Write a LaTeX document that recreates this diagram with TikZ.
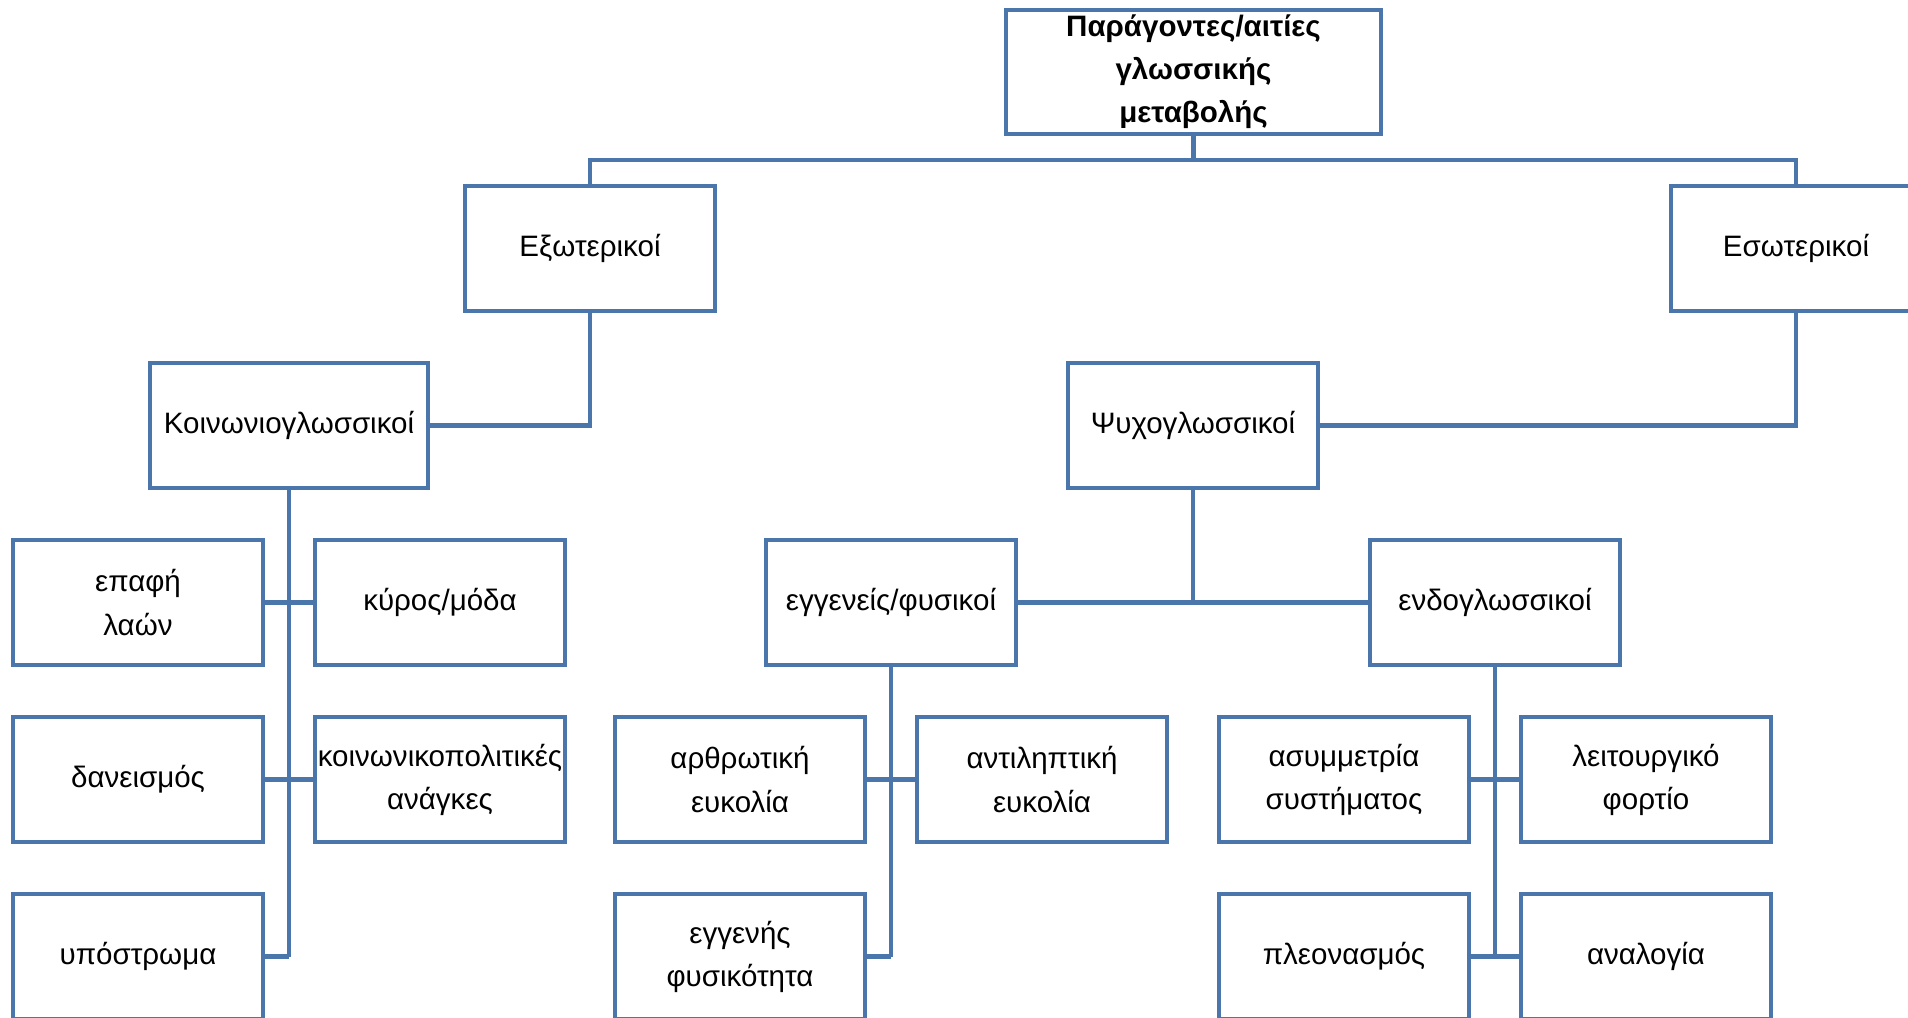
\documentclass[tikz,border=0pt]{standalone}
\usepackage{fontspec}
\setmainfont{Liberation Sans}
\usepackage{xcolor}
\usetikzlibrary{positioning,calc}
\definecolor{boxblue}{HTML}{4A76AC}

\begin{document}
\begin{tikzpicture}[
    node distance=1.04cm,
    box/.style={rectangle, draw=boxblue, line width=2.6pt, minimum width=5cm, minimum height=2.5cm, inner sep=0pt, outer sep=0pt, align=center, font=\fontsize{16.8}{24.5}\selectfont},
    link/.style={draw=boxblue, line width=2.6pt}
]
\useasboundingbox (0,0) rectangle (38.16,-20.36);
\clip (0,0) rectangle (38.16,-20.36);

\node[box, font=\fontsize{16.8}{24.5}\selectfont\bfseries, minimum width=7.5cm, minimum height=2.48cm] (root) at (23.87,-1.44) {Παράγοντες/αιτίες\\γλωσσικής\\μεταβολής};
\node[box, below=of root, xshift=-12.07cm] (ext) {Εξωτερικοί};
\node[box, below=of root, xshift=12.05cm] (int) {Εσωτερικοί};
\node[box, below=of ext, xshift=-6.02cm, minimum width=5.56cm] (koin) {Κοινωνιογλωσσικοί};
\node[box, below=of int, xshift=-12.06cm] (psy) {Ψυχογλωσσικοί};

% κοινωνιογλωσσικοί
\node[box, below=of koin, xshift=-3.02cm] (epafi) {επαφή\\λαών};
\node[box, right=of epafi] (kyros) {κύρος/μόδα};
\node[box, below=of epafi] (daneismos) {δανεισμός};
\node[box, below=of kyros] (koinpol) {κοινωνικοπολιτικές\\ανάγκες};
\node[box, below=of daneismos] (ypostroma) {υπόστρωμα};

% ψυχογλωσσικοί
\node[box, below=of psy, xshift=-6.04cm] (engeneis) {εγγενείς/φυσικοί};
\node[box, below=of psy, xshift=6.04cm] (endo) {ενδογλωσσικοί};
\node[box, below=of engeneis, xshift=-3.02cm] (arthr) {αρθρωτική\\ευκολία};
\node[box, right=of arthr] (antil) {αντιληπτική\\ευκολία};
\node[box, below=of arthr] (fysik) {εγγενής\\φυσικότητα};
\node[box, below=of endo, xshift=-3.02cm] (asym) {ασυμμετρία\\συστήματος};
\node[box, right=of asym] (leit) {λειτουργικό\\φορτίο};
\node[box, below=of asym] (pleon) {πλεονασμός};
\node[box, below=of leit] (analog) {αναλογία};

\draw[link] (root.south) -- ++(0,-0.52) coordinate (bus);
\draw[link] (ext.north) |- (bus) -| (int.north);
\draw[link] (ext.south) |- (koin.east);
\draw[link] (int.south) |- (psy.east);

\draw[link] (koin.south) -- (koin.south |- ypostroma.east);
\draw[link] (epafi.east) -- (kyros.west);
\draw[link] (daneismos.east) -- (koinpol.west);
\draw[link] (ypostroma.east) -- (koin.south |- ypostroma.east);

\draw[link] (psy.south) -- (psy.south |- engeneis.east);
\draw[link] (engeneis.east) -- (endo.west);

\draw[link] (engeneis.south) -- (engeneis.south |- fysik.east);
\draw[link] (arthr.east) -- (antil.west);
\draw[link] (fysik.east) -- (engeneis.south |- fysik.east);

\draw[link] (endo.south) -- (endo.south |- pleon.east);
\draw[link] (asym.east) -- (leit.west);
\draw[link] (pleon.east) -- (analog.west);

\end{tikzpicture}
\end{document}
